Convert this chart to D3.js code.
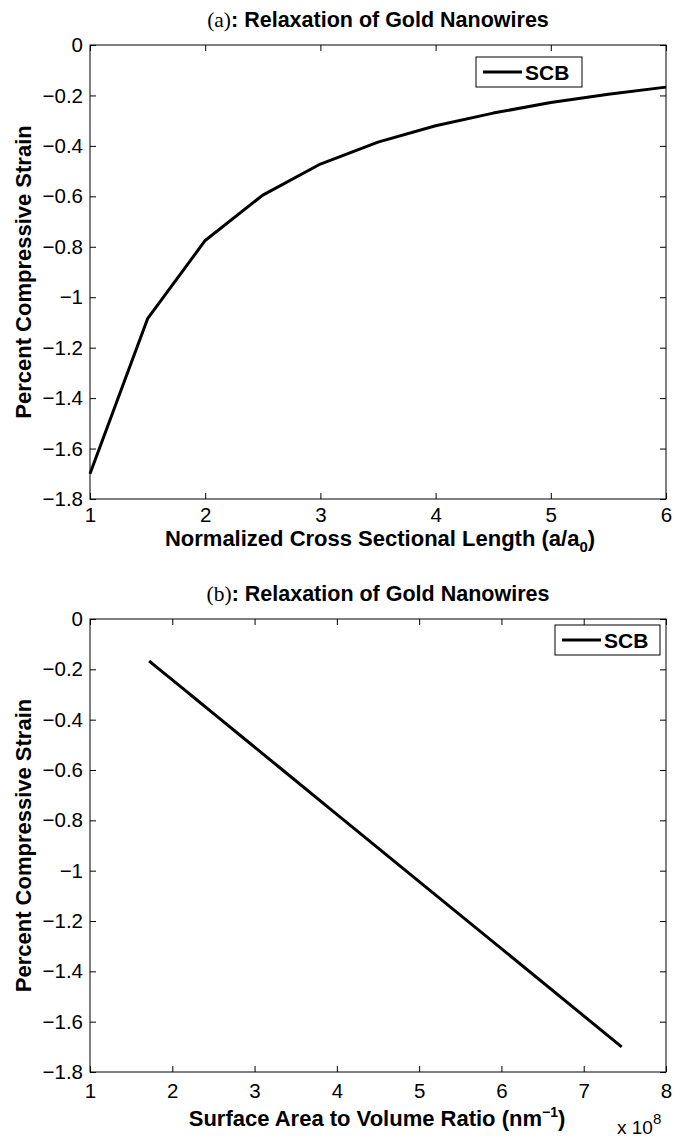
<!DOCTYPE html>
<html>
<head>
<meta charset="utf-8">
<script src="https://cdn.jsdelivr.net/npm/d3@7"></script>
<style>
  html, body { margin: 0; padding: 0; background: #fff; }
  svg { display: block; }
  text { font-family: "Liberation Sans", Arial, Helvetica, sans-serif; fill: #000; }
</style>
</head>
<body>
<svg id="chart" width="682" height="1142"></svg>
<script>
// ---------- data ----------
const lengthRatio = [1, 1.5, 2, 2.5, 3, 3.5, 4, 4.5, 5, 5.5, 6];
const strainSCB   = [-1.70, -1.085, -0.775, -0.595, -0.472, -0.385, -0.32, -0.27, -0.228, -0.195, -0.167];
const surfaceToVolume = [7.461, 5.157, 3.996, 3.322, 2.861, 2.536, 2.292, 2.105, 1.948, 1.824, 1.719]; // x 10^8
const yTicks  = [0, -0.2, -0.4, -0.6, -0.8, -1, -1.2, -1.4, -1.6, -1.8];
const xTicksA = [1, 2, 3, 4, 5, 6];
const xTicksB = [1, 2, 3, 4, 5, 6, 7, 8];
const seriesName = "SCB";

const svg = d3.select("#chart");
const fmt = d3.format("");

function panel(opts) {
  const { top, bottom, xDomain, xTicks, xs, ys, title, legend } = opts;
  const left = 90, right = 666;
  const x = d3.scaleLinear().domain(xDomain).range([left, right]);
  const y = d3.scaleLinear().domain([-1.8, 0]).range([bottom, top]);
  const g = svg.append("g");

  g.append("rect").attr("x", left).attr("y", top)
    .attr("width", right - left).attr("height", bottom - top)
    .attr("fill", "none").attr("stroke", "#000").attr("stroke-width", 1);

  const tickLen = 6;
  const bAx = g.append("g").attr("transform", `translate(0,${bottom})`)
    .call(d3.axisBottom(x).tickValues(xTicks).tickFormat(fmt)
      .tickSizeInner(-tickLen).tickSizeOuter(0).tickPadding(opts.xPad));
  const tAx = g.append("g").attr("transform", `translate(0,${top})`)
    .call(d3.axisTop(x).tickValues(xTicks).tickFormat("")
      .tickSizeInner(-tickLen).tickSizeOuter(0));
  const lAx = g.append("g").attr("transform", `translate(${left},0)`)
    .call(d3.axisLeft(y).tickValues(yTicks).tickFormat(fmt)
      .tickSizeInner(-tickLen).tickSizeOuter(0).tickPadding(7));
  const rAx = g.append("g").attr("transform", `translate(${right},0)`)
    .call(d3.axisRight(y).tickValues(yTicks).tickFormat("")
      .tickSizeInner(-tickLen).tickSizeOuter(0));
  [bAx, tAx, lAx, rAx].forEach(a => {
    a.select(".domain").remove();
    a.selectAll("line").attr("stroke", "#000");
    a.selectAll("text").attr("font-size", 20.5)
      .attr("font-family", "'Liberation Sans', Arial, sans-serif").attr("fill", "#000");
  });

  const pts = xs.map((v, i) => [v, ys[i]]);
  g.append("path").datum(pts)
    .attr("fill", "none").attr("stroke", "#000").attr("stroke-width", 3)
    .attr("stroke-linejoin", "round")
    .attr("d", d3.line().x(d => x(d[0])).y(d => y(d[1])));

  const t = g.append("text").attr("x", (left + right) / 2).attr("y", top - 18)
    .attr("text-anchor", "middle").attr("font-size", 21.5);
  t.append("tspan").attr("font-family", "'Liberation Serif', 'Times New Roman', serif")
    .attr("font-weight", "normal").text(title[0]);
  t.append("tspan").attr("font-weight", "bold").text(title[1]);

  g.append("text")
    .attr("transform", `translate(31,${(top + bottom) / 2}) rotate(-90)`)
    .attr("text-anchor", "middle").attr("font-size", 22).attr("font-weight", "bold")
    .text("Percent Compressive Strain");

  const L = legend;
  g.append("rect").attr("x", L.x).attr("y", top + L.dy).attr("width", L.w).attr("height", 30)
    .attr("fill", "#fff").attr("stroke", "#000").attr("stroke-width", 1);
  g.append("line").attr("x1", L.x + 7).attr("x2", L.x + 46)
    .attr("y1", top + L.dy + 15).attr("y2", top + L.dy + 15)
    .attr("stroke", "#000").attr("stroke-width", 3);
  g.append("text").attr("x", L.x + 49).attr("y", top + L.dy + 23)
    .attr("font-size", 21).attr("font-weight", "bold").text(seriesName);

  return { g, x, y, left, right, top, bottom };
}

// ---------- panel (a) ----------
const A = panel({
  top: 45, bottom: 499, xDomain: [1, 6], xTicks: xTicksA,
  xs: lengthRatio, ys: strainSCB, xPad: 8,
  title: ["(a)", ":  Relaxation of Gold Nanowires"],
  legend: { x: 476, dy: 12, w: 106 }
});
const xlA = A.g.append("text").attr("x", 380).attr("y", A.bottom + 47)
  .attr("text-anchor", "middle").attr("font-size", 22).attr("font-weight", "bold");
xlA.append("tspan").text("Normalized Cross Sectional Length (a/a");
xlA.append("tspan").attr("font-size", 15).attr("dy", 6).text("0");
xlA.append("tspan").attr("dy", -6).text(")");

// ---------- panel (b) ----------
const B = panel({
  top: 619, bottom: 1072, xDomain: [1, 8], xTicks: xTicksB,
  xs: surfaceToVolume, ys: strainSCB, xPad: 11,
  title: ["(b)", ":  Relaxation of Gold Nanowires"],
  legend: { x: 555, dy: 6, w: 105 }
});
const xlB = B.g.append("text").attr("x", 377).attr("y", B.bottom + 54)
  .attr("text-anchor", "middle").attr("font-size", 22).attr("font-weight", "bold");
xlB.append("tspan").text("Surface Area to Volume Ratio (nm");
xlB.append("tspan").attr("font-size", 14).attr("dy", -9).text("−1");
xlB.append("tspan").attr("dy", 9).text(")");
const ex = B.g.append("text").attr("x", 617).attr("y", B.bottom + 62)
  .attr("font-size", 19);
ex.append("tspan").text("x 10");
ex.append("tspan").attr("font-size", 15).attr("dy", -10).text("8");
</script>
</body>
</html>
